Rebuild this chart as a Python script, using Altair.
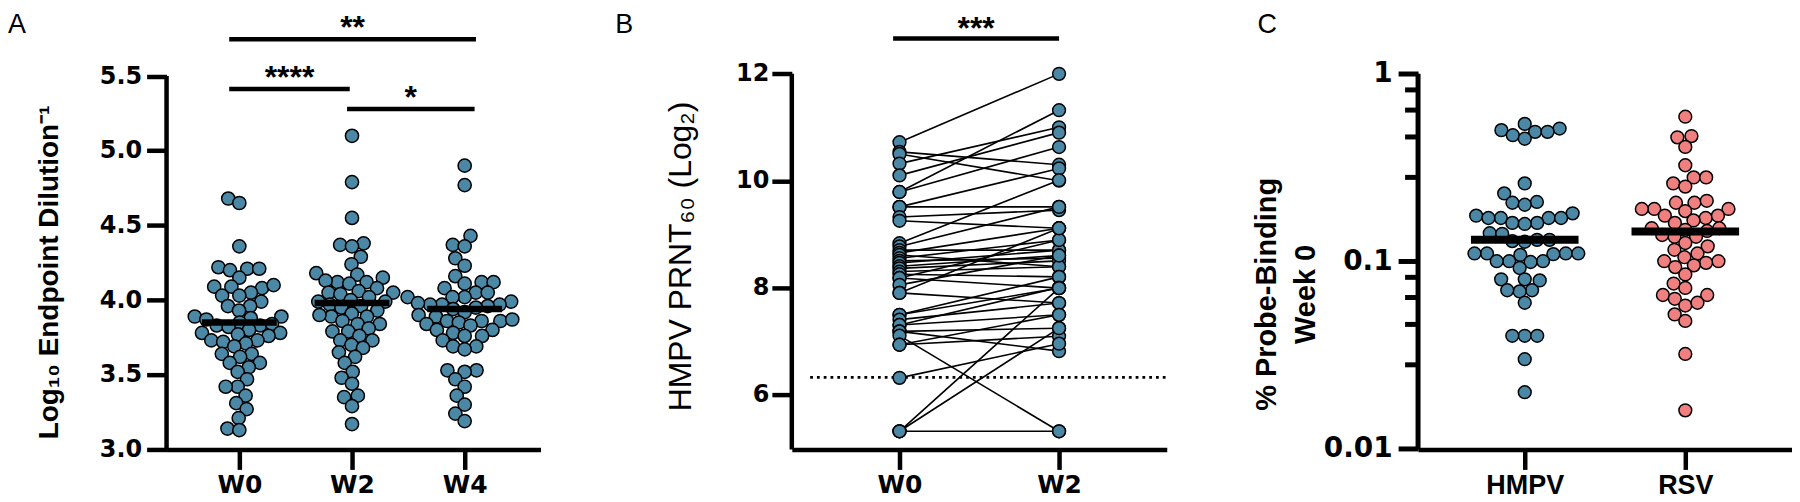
import math
import altair as alt
import pandas as pd

# ---------------- data ----------------
A_GROUPS = ["W0", "W2", "W4"]
A_W0 = [4.68, 4.65, 4.36, 4.22, 4.21, 4.20, 4.21, 4.15, 4.09, 4.09, 4.08, 4.10, 4.05, 4.03,
        4.03, 3.99, 3.96, 3.96, 3.93, 3.89, 3.89, 3.88, 3.87, 3.85, 3.83, 3.83, 3.82, 3.84,
        3.80, 3.78, 3.78, 3.77, 3.76, 3.73, 3.73, 3.72, 3.71, 3.69, 3.64, 3.64, 3.62, 3.58,
        3.58, 3.55, 3.52, 3.47, 3.42, 3.42, 3.36, 3.31, 3.27, 3.21, 3.14, 3.13]
A_W2 = [5.10, 4.79, 4.55, 4.37, 4.38, 4.36, 4.29, 4.24, 4.18, 4.17, 4.15, 4.12, 4.12, 4.11,
        4.13, 4.08, 4.05, 4.05, 4.04, 4.06, 4.02, 3.99, 3.99, 4.00, 3.96, 3.97, 3.95, 3.93,
        3.91, 3.89, 3.89, 3.90, 3.86, 3.84, 3.84, 3.81, 3.79, 3.79, 3.76, 3.73, 3.73, 3.70,
        3.68, 3.65, 3.62, 3.58, 3.52, 3.48, 3.44, 3.36, 3.35, 3.29, 3.17]
A_W4 = [4.90, 4.77, 4.43, 4.37, 4.36, 4.28, 4.23, 4.16, 4.12, 4.12, 4.11, 4.08, 4.05, 4.05,
        4.02, 4.02, 4.02, 3.99, 3.97, 3.97, 3.97, 3.96, 3.98, 3.95, 3.94, 3.92, 3.90, 3.89,
        3.86, 3.86, 3.86, 3.85, 3.87, 3.84, 3.83, 3.80, 3.80, 3.78, 3.76, 3.76, 3.73, 3.69,
        3.69, 3.67, 3.53, 3.53, 3.52, 3.47, 3.42, 3.36, 3.30, 3.24, 3.19]
A_MEDIANS = [3.85, 3.98, 3.94]
A_TICKS = [3.0, 3.5, 4.0, 4.5, 5.0, 5.5]
A_SIG_TEXT = ["**", "****", "*"]
A_SIG_FROM = [-0.09, -0.09, 0.956]
A_SIG_TO = [2.10, 0.98, 2.088]
A_SIG_LEVEL = [5.747, 5.413, 5.279]

B_GROUPS = ["W0", "W2"]
B_W0 = [10.72, 10.54, 10.50, 10.32, 10.10, 9.79, 9.79, 9.51, 9.51, 9.32, 9.25, 8.83, 8.77,
        8.70, 8.65, 8.61, 8.55, 8.50, 8.46, 8.40, 8.36, 8.30, 8.25, 8.18, 8.18, 8.05, 7.90,
        7.90, 7.49, 7.49, 7.40, 7.30, 7.30, 7.18, 7.18, 7.10, 6.93, 6.93, 6.31, 5.31, 5.31, 5.31]
B_W2 = [12.00, 10.30, 10.00, 11.00, 10.90, 11.32, 10.63, 10.23, 9.51, 9.45, 9.11, 10.01, 9.51,
        8.70, 9.11, 8.39, 8.89, 8.55, 8.70, 8.60, 8.50, 8.39, 8.20, 8.89, 7.99, 8.60, 7.71,
        9.11, 7.99, 8.20, 7.71, 7.49, 8.00, 7.24, 6.81, 5.31, 7.49, 7.09, 6.95, 7.99, 7.24, 5.31]
B_TICKS = [6, 8, 10, 12]
B_LOD = 6.32
B_SIG_TEXT = ["***"]
B_SIG_FROM = [-0.04]
B_SIG_TO = [1.0]
B_SIG_LEVEL = [12.66]

C_GROUPS = ["HMPV", "RSV"]
C_HMPV = [0.54, 0.51, 0.50, 0.49, 0.49, 0.47, 0.45, 0.26, 0.23, 0.207, 0.205, 0.20, 0.18,
          0.175, 0.17, 0.17, 0.17, 0.17, 0.16, 0.16, 0.158, 0.141, 0.14, 0.13, 0.13, 0.128,
          0.127, 0.11, 0.11, 0.11, 0.11, 0.109, 0.108, 0.10, 0.10, 0.10, 0.099, 0.092, 0.08,
          0.08, 0.079, 0.07, 0.069, 0.07, 0.06, 0.04, 0.04, 0.04, 0.03, 0.02]
C_RSV = [0.59, 0.465, 0.458, 0.407, 0.325, 0.28, 0.28, 0.26, 0.25, 0.205, 0.205, 0.21, 0.19,
         0.185, 0.19, 0.19, 0.175, 0.17, 0.175, 0.165, 0.16, 0.15, 0.15, 0.145, 0.147, 0.135,
         0.135, 0.138, 0.125, 0.12, 0.115, 0.11, 0.105, 0.10, 0.10, 0.098, 0.095, 0.093, 0.085,
         0.076, 0.072, 0.066, 0.066, 0.063, 0.058, 0.06, 0.052, 0.048, 0.032, 0.016]
C_MEDIANS = [0.13, 0.144]
C_MAJOR = [0.01, 0.1, 1]
C_MINOR = [0.028, 0.046, 0.064, 0.082, 0.28, 0.46, 0.64, 0.82]

# ---------------- layout / style ----------------
BLUE = "#4B88A6"
SALMON = "#F07F7F"
H = 442
A_W, B_W, C_W = 375, 376, 375
A_XD = [-0.646, 2.673]
A_YD = [3.0, 5.951]
B_XD = [-0.675, 1.675]
B_YD = [4.97, 13.22]
C_XD = [-0.6646, 1.6646]
C_YD = [0.0099, 2.224]
LW = 4.5
TICKFONT = "DejaVu Sans"
TITLEFONT = "Liberation Sans"


def swarm_offsets(ypx, d):
    order = sorted(range(len(ypx)), key=lambda i: ypx[i])
    placed = []
    xs = [0.0] * len(ypx)
    for i in order:
        y = ypx[i]
        iv = []
        for px, py in placed:
            dy = abs(py - y)
            if dy < d:
                w = math.sqrt(d * d - dy * dy)
                iv.append((px - w, px + w))
        cands = sorted([0.0] + [a for a, _ in iv] + [b for _, b in iv], key=lambda c: (abs(c), c))
        for c in cands:
            if all(not (a + 1e-6 < c < b - 1e-6) for a, b in iv):
                xs[i] = c
                break
        placed.append((xs[i], y))
    return xs


def swarm_frame(groups, lists, to_px, px_per_unit, d):
    rows = []
    for gi, (name, vals) in enumerate(zip(groups, lists)):
        offs = swarm_offsets([to_px(v) for v in vals], d)
        for v, o in zip(vals, offs):
            rows.append({"g": gi, "grp": name, "v": v, "x": gi + o / px_per_unit})
    return pd.DataFrame(rows)


def label_expr(groups):
    return "[" + ",".join("'%s'" % g for g in groups) + "][datum.value]"


def x_axis(groups, font, weight, size, pad):
    return alt.Axis(values=list(range(len(groups))), labelExpr=label_expr(groups), title=None,
                    domain=True, domainColor="black", domainWidth=LW, ticks=True,
                    tickColor="black", tickWidth=LW, tickSize=20, labelFont=font,
                    labelFontWeight=weight, labelFontSize=size, labelColor="black",
                    labelPadding=pad, grid=False, labelFlush=False, labelOverlap=False)


def panel_letter(text, dx):
    return alt.Chart(pd.DataFrame({"t": [text]})).mark_text(
        font=TITLEFONT, fontSize=27, align="left", baseline="top", color="black"
    ).encode(x=alt.value(dx), y=alt.value(3), text="t:N")


# ---------------- Panel A ----------------
a_px_x = A_W / (A_XD[1] - A_XD[0])
a_to_px = lambda v: (v - A_YD[0]) / (A_YD[1] - A_YD[0]) * H
dfA = swarm_frame(A_GROUPS, [A_W0, A_W2, A_W4], a_to_px, a_px_x, 12.0)

AX = dict(scale=alt.Scale(domain=A_XD, nice=False, zero=False),
          axis=x_axis(A_GROUPS, TICKFONT, "bold", 25, 3))
AY_AXIS = alt.Axis(values=A_TICKS, format=".1f", domain=False, grid=False, tickSize=20,
                   tickWidth=LW, tickColor="black", labelFont=TICKFONT, labelFontWeight="bold",
                   labelFontSize=24, labelColor="black", labelPadding=5, labelFlush=False,
                   title="Log₁₀ Endpoint Dilution⁻¹", titleFont=TITLEFONT,
                   titleFontWeight="bold", titleFontSize=28, titleColor="black",
                   titleAngle=270, titleX=-117, titleY=264, titleAlign="center",
                   titleBaseline="middle")
AY = dict(scale=alt.Scale(domain=A_YD, nice=False, zero=False), axis=AY_AXIS)

a_axis_line = alt.Chart(pd.DataFrame({"y0": [A_TICKS[0]], "y1": [A_TICKS[-1]]})).mark_rule(
    color="black", strokeWidth=LW).encode(x=alt.value(0), y=alt.Y("y0:Q", **AY), y2="y1:Q")
a_points = alt.Chart(dfA).mark_point(
    shape="circle", filled=True, size=175, fill=BLUE, stroke="black", strokeWidth=1.5, opacity=1
).encode(x=alt.X("x:Q", **AX), y=alt.Y("v:Q", **AY))
dfAm = pd.DataFrame({"g": range(3), "m": A_MEDIANS})
dfAm["x1"] = dfAm["g"] - 0.332
dfAm["x2"] = dfAm["g"] + 0.332
a_med = alt.Chart(dfAm).mark_rule(color="black", strokeWidth=6.5).encode(
    x=alt.X("x1:Q", **AX), x2="x2:Q", y=alt.Y("m:Q", **AY))
dfAs = pd.DataFrame({"t": A_SIG_TEXT, "x1": A_SIG_FROM, "x2": A_SIG_TO, "lv": A_SIG_LEVEL})
dfAs["xc"] = (dfAs["x1"] + dfAs["x2"]) / 2
a_sig = alt.Chart(dfAs).mark_rule(color="black", strokeWidth=LW).encode(
    x=alt.X("x1:Q", **AX), x2="x2:Q", y=alt.Y("lv:Q", **AY))
a_sig_t = alt.Chart(dfAs).mark_text(font=TITLEFONT, fontWeight="bold", fontSize=32,
                                    baseline="alphabetic", dy=-1, color="black").encode(
    x=alt.X("xc:Q", **AX), y=alt.Y("lv:Q", **AY), text="t:N")
panelA = alt.layer(a_axis_line, a_points, a_med, a_sig, a_sig_t, panel_letter("A", -159)
                   ).properties(width=A_W, height=H)

# ---------------- Panel B ----------------
rowsB = []
for i, (w0, w2) in enumerate(zip(B_W0, B_W2)):
    rowsB.append({"sid": i, "x": 0, "v": w0})
    rowsB.append({"sid": i, "x": 1, "v": w2})
dfB = pd.DataFrame(rowsB)
BX = dict(scale=alt.Scale(domain=B_XD, nice=False, zero=False),
          axis=x_axis(B_GROUPS, TICKFONT, "bold", 25, 3))
BY_AXIS = alt.Axis(values=B_TICKS, format="d", domain=False, grid=False, tickSize=20,
                   tickWidth=LW, tickColor="black", labelFont=TICKFONT, labelFontWeight="bold",
                   labelFontSize=24, labelColor="black", labelPadding=3, labelFlush=False,
                   title="HMPV PRNT₆₀ (Log₂)", titleFont=TITLEFONT, titleFontWeight="normal",
                   titleFontSize=32, titleColor="black", titleAngle=270, titleX=-112,
                   titleY=248, titleAlign="center", titleBaseline="middle")
BY = dict(scale=alt.Scale(domain=B_YD, nice=False, zero=False), axis=BY_AXIS)

b_axis_line = alt.Chart(pd.DataFrame({"y0": [B_YD[0]], "y1": [B_TICKS[-1]]})).mark_rule(
    color="black", strokeWidth=LW).encode(x=alt.value(0), y=alt.Y("y0:Q", **BY), y2="y1:Q")
b_lod = alt.Chart(pd.DataFrame({"x1": [-0.56], "x2": [B_XD[1]], "v": [B_LOD]})).mark_rule(
    color="black", strokeWidth=2.8, strokeDash=[2.8, 4]).encode(
    x=alt.X("x1:Q", **BX), x2="x2:Q", y=alt.Y("v:Q", **BY))
b_lines = alt.Chart(dfB).mark_line(color="black", strokeWidth=1.6).encode(
    x=alt.X("x:Q", **BX), y=alt.Y("v:Q", **BY), detail="sid:N")
b_points = alt.Chart(dfB).mark_point(
    shape="circle", filled=True, size=165, fill=BLUE, stroke="black", strokeWidth=1.5, opacity=1
).encode(x=alt.X("x:Q", **BX), y=alt.Y("v:Q", **BY))
dfBs = pd.DataFrame({"t": B_SIG_TEXT, "x1": B_SIG_FROM, "x2": B_SIG_TO, "lv": B_SIG_LEVEL})
dfBs["xc"] = (dfBs["x1"] + dfBs["x2"]) / 2
b_sig = alt.Chart(dfBs).mark_rule(color="black", strokeWidth=LW).encode(
    x=alt.X("x1:Q", **BX), x2="x2:Q", y=alt.Y("lv:Q", **BY))
b_sig_t = alt.Chart(dfBs).mark_text(font=TITLEFONT, fontWeight="bold", fontSize=32,
                                    baseline="alphabetic", dy=0, color="black").encode(
    x=alt.X("xc:Q", **BX), y=alt.Y("lv:Q", **BY), text="t:N")
panelB = alt.layer(b_axis_line, b_lod, b_lines, b_points, b_sig, b_sig_t,
                   panel_letter("B", -177)).properties(width=B_W, height=H)

# ---------------- Panel C ----------------
c_px_x = C_W / (C_XD[1] - C_XD[0])
l0, l1 = math.log10(C_YD[0]), math.log10(C_YD[1])
c_to_px = lambda v: (math.log10(v) - l0) / (l1 - l0) * H
dfC = swarm_frame(C_GROUPS, [C_HMPV, C_RSV], c_to_px, c_px_x, 12.5)

CX = dict(scale=alt.Scale(domain=C_XD, nice=False, zero=False),
          axis=x_axis(C_GROUPS, TITLEFONT, "bold", 27, 3))
CY_AXIS = alt.Axis(values=C_MAJOR, labelExpr="format(datum.value, '')", domain=False,
                   grid=False, tickSize=20, tickWidth=5, tickColor="black", labelFont=TICKFONT,
                   labelFontWeight="bold", labelFontSize=28, labelColor="black",
                   labelPadding=6, labelFlush=False, labelOverlap=False,
                   title=["% Probe-Binding", "Week 0"], titleFont=TITLEFONT,
                   titleFontWeight="bold", titleFontSize=29, titleLineHeight=39,
                   titleColor="black", titleAngle=270, titleX=-152, titleY=286,
                   titleAlign="center", titleBaseline="middle")
CY = dict(scale=alt.Scale(type="log", domain=C_YD, nice=False), axis=CY_AXIS)

c_axis_line = alt.Chart(pd.DataFrame({"y0": [C_YD[0]], "y1": [C_MAJOR[-1]]})).mark_rule(
    color="black", strokeWidth=5).encode(x=alt.value(0), y=alt.Y("y0:Q", **CY), y2="y1:Q")
c_minor = alt.Chart(pd.DataFrame({"v": C_MINOR})).mark_rule(color="black", strokeWidth=5).encode(
    x=alt.value(-13), x2=alt.value(0), y=alt.Y("v:Q", **CY))
c_points = alt.Chart(dfC).mark_point(
    shape="circle", filled=True, size=165, stroke="black", strokeWidth=1.5, opacity=1
).encode(x=alt.X("x:Q", **CX), y=alt.Y("v:Q", **CY),
         fill=alt.Fill("grp:N", scale=alt.Scale(domain=C_GROUPS, range=[BLUE, SALMON]),
                       legend=None))
dfCm = pd.DataFrame({"g": range(2), "m": C_MEDIANS})
dfCm["x1"] = dfCm["g"] - 0.335
dfCm["x2"] = dfCm["g"] + 0.335
c_med = alt.Chart(dfCm).mark_rule(color="black", strokeWidth=8).encode(
    x=alt.X("x1:Q", **CX), x2="x2:Q", y=alt.Y("m:Q", **CY))
panelC = alt.layer(c_axis_line, c_minor, c_points, c_med, panel_letter("C", -161)
                   ).properties(width=C_W, height=H)

chart = alt.hconcat(panelA, panelB, panelC, spacing=252, bounds="flush", padding=0,
                    background="white").configure_view(stroke=None)

chart.save("out.html", embed_options={"renderer": "svg", "actions": False})
